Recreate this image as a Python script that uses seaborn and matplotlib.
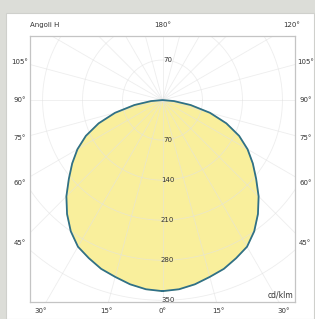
import numpy as np
import pandas as pd
import matplotlib
matplotlib.use("Agg")
import matplotlib.pyplot as plt
from matplotlib.patches import Rectangle
import seaborn as sns

# photometric curve, C0-C180 plane (gamma measured from nadir), cd/klm
gamma = [0, 5, 10, 15, 20, 25, 30, 35, 40, 45, 50, 55, 60, 65, 70, 75, 80, 85, 90]
intensity = [334, 332, 327, 320, 314, 305, 296, 280, 260, 238, 214, 193, 172, 148, 119, 86, 50, 20, 0]

ring_values = [70, 140, 210, 280, 350]
side_angles = [105, 90, 75, 60, 45]
bottom_angles = [30, 15, 0, 15, 30]
top_angles = [180, 120]

sns.set_style("white")
plt.rcParams['font.family'] = ['DejaVu Sans']

fig = plt.figure(figsize=(3.15, 3.19), dpi=100, facecolor='#dcddd8')
fig.patches.append(Rectangle((6 / 315, 0), 308 / 315, 306 / 319, transform=fig.transFigure,
                             facecolor='white', edgecolor='#cfd0cc', lw=0.8, zorder=-10))
ax = fig.add_axes([30 / 315, 17 / 319, 265 / 315, 266 / 319])
ax.set_facecolor('white')
for sp in ax.spines.values():
    sp.set_color('#c4c4c4')
    sp.set_linewidth(0.9)

# curve, mirrored to both sides
g = np.radians(np.array(gamma))
r = np.array(intensity)
right = pd.DataFrame({'x': r * np.sin(g), 'y': -r * np.cos(g)})
left = pd.DataFrame({'x': -r[::-1] * np.sin(g[::-1]), 'y': -r[::-1] * np.cos(g[::-1])})
curve = pd.concat([right, left.iloc[1:]], ignore_index=True)
ax.fill(curve['x'], curve['y'], color='#f9ef9c', zorder=1)
sns.lineplot(data=curve, x='x', y='y', sort=False, estimator=None, color='#2f7088',
             lw=1.3, ax=ax, zorder=3)

# polar grid
t = np.linspace(0, 2 * np.pi, 400)
for v in ring_values:
    ax.plot(v * np.cos(t), v * np.sin(t), color='#e2e2e2', lw=0.6, alpha=0.6, zorder=2)
for a in range(0, 360, 15):
    ar = np.radians(a)
    ax.plot([0, 600 * np.sin(ar)], [0, -600 * np.cos(ar)], color='#e2e2e2', lw=0.6,
            alpha=0.6, zorder=2)
ax.set_xlim(-232, 232)
ax.set_ylim(-353, 112)
ax.set_xticks([])
ax.set_yticks([])
ax.set_xlabel('')
ax.set_ylabel('')

# radial value labels
for v in ring_values:
    ax.text(9, -v, str(v), fontsize=5, color='#333333', ha='center', va='center', zorder=4)
ax.text(9, 70, '70', fontsize=5, color='#333333', ha='center', va='center', zorder=4)


def edge_point(a_deg, xb=250, ytop=131, ybot=-368):
    ar = np.radians(a_deg)
    dx, dy = np.sin(ar), -np.cos(ar)
    ts = []
    if abs(dx) > 1e-9:
        ts.append(xb / abs(dx))
    if dy > 1e-9:
        ts.append(ytop / dy)
    if dy < -1e-9:
        ts.append(-ybot / -dy)
    return min(ts) * dx, min(ts) * dy


lab_kw = dict(fontsize=5, color='#333333', ha='center', va='center', clip_on=False)
for a in side_angles:
    x, y = edge_point(a)
    ax.text(-x, y, f'{a}°', **lab_kw)
    ax.text(x, y, f'{a}°', **lab_kw)
for i, a in enumerate(bottom_angles):
    sgn = -1 if i < 2 else 1
    x, y = edge_point(sgn * a)
    ax.text(x, y, f'{a}°', **lab_kw)
for a in top_angles:
    x, y = edge_point(a)
    ax.text(x, y, f'{a}°', **lab_kw)

ax.text(0, 1.03, 'Angoli H', transform=ax.transAxes, fontsize=5, color='#333333',
        ha='left', va='bottom')
ax.text(0.995, 0.01, 'cd/klm', transform=ax.transAxes, fontsize=5.5, color='#333333',
        ha='right', va='bottom')

fig.savefig('out.png', dpi=100, facecolor=fig.get_facecolor())
